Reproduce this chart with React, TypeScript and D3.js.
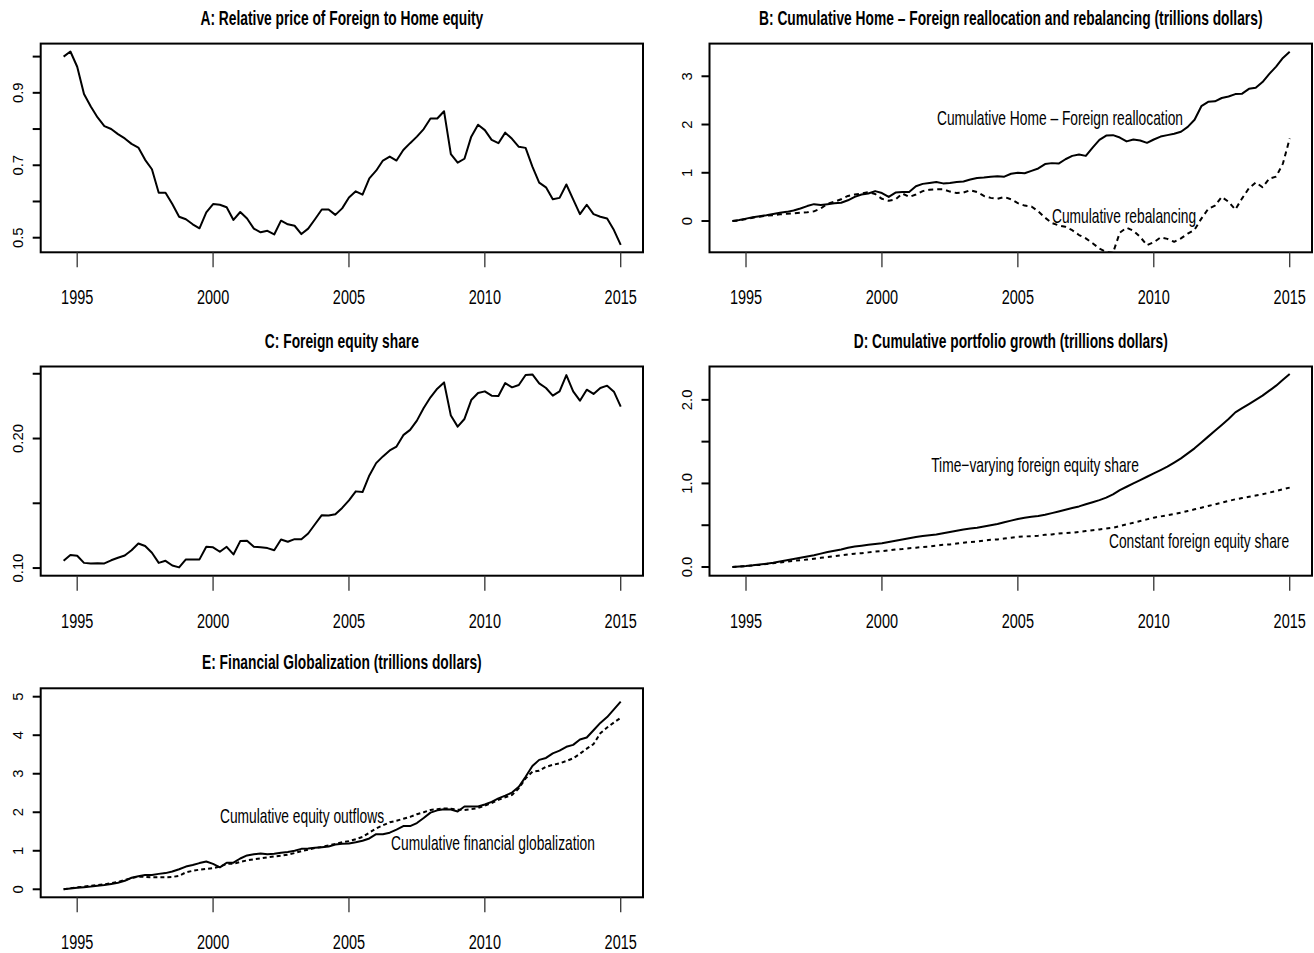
import React from "react";
import * as d3 from "d3";

// quarterly observations, 1994Q3 .. 2015Q1
const START_YEAR = 1994.5;
const STEP = 0.25;

const relPrice = [
  1.0, 1.014, 0.972, 0.897, 0.862, 0.832, 0.808, 0.8, 0.786, 0.774,
  0.759, 0.749, 0.715, 0.689, 0.624, 0.624, 0.593, 0.558, 0.551, 0.537,
  0.526, 0.57, 0.593, 0.591, 0.584, 0.549, 0.571, 0.553, 0.525, 0.515,
  0.519, 0.509, 0.547, 0.537, 0.533, 0.51, 0.525, 0.551, 0.578, 0.578,
  0.563, 0.581, 0.611, 0.628, 0.619, 0.664, 0.685, 0.713, 0.724, 0.713,
  0.742, 0.761, 0.779, 0.8, 0.829, 0.829, 0.849, 0.731, 0.707, 0.718,
  0.779, 0.812, 0.797, 0.77, 0.761, 0.79, 0.773, 0.751, 0.748, 0.696,
  0.652, 0.639, 0.606, 0.61, 0.647, 0.606, 0.565, 0.591, 0.565, 0.558,
  0.553, 0.521, 0.48,
];

const reallocation = [
  0.0, 0.02, 0.05, 0.08, 0.1, 0.12, 0.145, 0.17, 0.19, 0.22,
  0.26, 0.31, 0.35, 0.33, 0.35, 0.37, 0.38, 0.43, 0.5, 0.55,
  0.57, 0.62, 0.58, 0.5, 0.59, 0.6, 0.6, 0.72, 0.77, 0.79,
  0.81, 0.78, 0.79, 0.81, 0.82, 0.86, 0.89, 0.9, 0.92, 0.93,
  0.92, 0.98, 1.0, 0.99, 1.04, 1.09, 1.18, 1.2, 1.19, 1.28,
  1.35, 1.38, 1.35, 1.52, 1.68, 1.77, 1.78, 1.73, 1.65, 1.69,
  1.67, 1.62, 1.69, 1.75, 1.78, 1.81, 1.85, 1.95, 2.1, 2.38,
  2.47, 2.48, 2.55, 2.58, 2.63, 2.64, 2.74, 2.76, 2.88, 3.05,
  3.2, 3.38, 3.51,
];

const rebalancing = [
  0.0, 0.01, 0.04, 0.07, 0.09, 0.11, 0.12, 0.14, 0.15, 0.16,
  0.17, 0.18, 0.2, 0.26, 0.36, 0.4, 0.45, 0.52, 0.55, 0.57,
  0.6, 0.56, 0.46, 0.42, 0.45, 0.57, 0.5, 0.55, 0.62, 0.65,
  0.66, 0.66, 0.61, 0.58, 0.59, 0.64, 0.6, 0.52, 0.48, 0.46,
  0.5, 0.45, 0.37, 0.32, 0.3, 0.2, 0.07, -0.04, -0.09, -0.12,
  -0.19, -0.29, -0.36, -0.46, -0.57, -0.64, -0.66, -0.24, -0.14, -0.2,
  -0.33, -0.5, -0.44, -0.34, -0.37, -0.43, -0.36, -0.26, -0.18, 0.05,
  0.25, 0.32, 0.5, 0.4, 0.24, 0.47, 0.68, 0.8, 0.7, 0.88,
  0.92, 1.19, 1.71,
];

const foreignShare = [
  0.1056, 0.11, 0.1095, 0.104, 0.1036, 0.1038, 0.1036, 0.106, 0.108, 0.1097,
  0.1138, 0.119, 0.117, 0.1118, 0.104, 0.1056, 0.102, 0.1005, 0.1067, 0.1067,
  0.1067, 0.1164, 0.116, 0.1126, 0.1164, 0.1105, 0.1208, 0.121, 0.1164, 0.116,
  0.1154, 0.1138, 0.122, 0.1203, 0.1223, 0.1223, 0.1267, 0.1338, 0.1408, 0.1405,
  0.1415, 0.1464, 0.1523, 0.1592, 0.1587, 0.1715, 0.181, 0.1862, 0.1908, 0.1938,
  0.2026, 0.2067, 0.2138, 0.2236, 0.2318, 0.2385, 0.2433, 0.2177, 0.2092, 0.2151,
  0.2297, 0.2351, 0.2364, 0.2331, 0.2328, 0.2428, 0.2395, 0.2413, 0.249, 0.2495,
  0.2426, 0.239, 0.2331, 0.2364, 0.249, 0.2364, 0.2292, 0.2377, 0.2344, 0.239,
  0.2408, 0.2362, 0.2246,
];

const growthVarying = [
  0.0, 0.006, 0.012, 0.02, 0.03, 0.04, 0.05, 0.065, 0.08, 0.095,
  0.11, 0.125, 0.14, 0.16, 0.18, 0.195, 0.21, 0.23, 0.245, 0.255,
  0.265, 0.275, 0.285, 0.3, 0.315, 0.33, 0.345, 0.36, 0.37, 0.38,
  0.39, 0.405, 0.42, 0.435, 0.45, 0.46, 0.47, 0.485, 0.5, 0.515,
  0.535, 0.555, 0.575, 0.59, 0.6, 0.61, 0.625, 0.645, 0.665, 0.685,
  0.705, 0.725, 0.75, 0.775, 0.8, 0.83, 0.87, 0.92, 0.96, 1.0,
  1.04, 1.08, 1.12, 1.16, 1.2, 1.25, 1.3, 1.36, 1.42, 1.49,
  1.56, 1.63, 1.7, 1.77, 1.85, 1.9, 1.95, 2.0, 2.05, 2.11,
  2.17, 2.24, 2.31,
];

const growthConstant = [
  0.0, 0.005, 0.01, 0.02, 0.025, 0.035, 0.045, 0.055, 0.065, 0.075,
  0.08, 0.09, 0.1, 0.11, 0.12, 0.13, 0.14, 0.15, 0.16, 0.165,
  0.175, 0.185, 0.19, 0.2, 0.21, 0.215, 0.225, 0.23, 0.24, 0.245,
  0.255, 0.265, 0.27, 0.28, 0.29, 0.3, 0.305, 0.315, 0.325, 0.33,
  0.34, 0.35, 0.36, 0.365, 0.37, 0.375, 0.385, 0.39, 0.4, 0.405,
  0.41, 0.42, 0.43, 0.44, 0.45, 0.46, 0.47, 0.49, 0.51, 0.53,
  0.55, 0.57, 0.59, 0.605, 0.62, 0.635, 0.65, 0.67, 0.69, 0.71,
  0.73, 0.75, 0.77, 0.79, 0.81, 0.825, 0.84, 0.855, 0.87, 0.89,
  0.91, 0.93, 0.95,
];

const globalization = [
  0.0, 0.02, 0.04, 0.055, 0.07, 0.09, 0.11, 0.14, 0.17, 0.22,
  0.3, 0.34, 0.37, 0.37, 0.4, 0.42, 0.46, 0.52, 0.59, 0.63,
  0.68, 0.72, 0.66, 0.57, 0.69, 0.69, 0.8, 0.88, 0.91, 0.93,
  0.91, 0.92, 0.95, 0.97, 1.0, 1.05, 1.06, 1.08, 1.09, 1.11,
  1.16, 1.18, 1.19, 1.22, 1.26, 1.32, 1.43, 1.43, 1.47, 1.55,
  1.64, 1.64, 1.72, 1.85, 1.99, 2.05, 2.08, 2.07, 2.02, 2.15,
  2.15, 2.15, 2.2, 2.27, 2.36, 2.43, 2.51, 2.66, 2.92, 3.2,
  3.36, 3.41, 3.53, 3.6, 3.7, 3.75, 3.89, 3.94, 4.13, 4.32,
  4.47, 4.67, 4.87,
];

const equityOutflows = [
  0.0, 0.03, 0.05, 0.07, 0.09, 0.11, 0.13, 0.16, 0.19, 0.24,
  0.29, 0.33, 0.32, 0.31, 0.31, 0.31, 0.32, 0.35, 0.44, 0.48,
  0.51, 0.53, 0.55, 0.59, 0.66, 0.66, 0.71, 0.75, 0.78, 0.8,
  0.83, 0.85, 0.87, 0.9, 0.94, 0.99, 1.03, 1.07, 1.1, 1.14,
  1.18, 1.22, 1.25, 1.3, 1.36, 1.47, 1.58, 1.66, 1.74, 1.78,
  1.83, 1.88, 1.95, 2.0, 2.06, 2.08, 2.1, 2.09, 2.07, 2.06,
  2.08, 2.11, 2.17, 2.24, 2.32, 2.39, 2.45, 2.62, 2.88, 3.05,
  3.08, 3.18, 3.23, 3.27, 3.33, 3.4, 3.52, 3.65, 3.77, 4.05,
  4.2, 4.33, 4.45,
];

const yearTicks = [1995, 2000, 2005, 2010, 2015];

const FONT = "'Liberation Sans', Arial, Helvetica, sans-serif";
const SQUEEZE = 0.69; // the reference text is horizontally condensed

type Series = { values: number[]; dash?: string };
type Note = { text: string; x: number; y: number };
type Panel = {
  id: string;
  title: string;
  box: [number, number, number, number]; // left, top, right, bottom
  yDomain: [number, number];
  yTicks: number[];
  yLabels: string[]; // "" = tick without label
  series: Series[];
  notes: Note[];
};

const LEFT_COL: [number, number] = [40.7, 643];
const RIGHT_COL: [number, number] = [709.5, 1312];
const ROW1: [number, number] = [43.6, 252.3];
const ROW2: [number, number] = [366.5, 575.7];
const ROW3: [number, number] = [688.3, 897.3];

const panels: Panel[] = [
  {
    id: "A",
    title: "A: Relative price of Foreign to Home equity",
    box: [LEFT_COL[0], ROW1[0], LEFT_COL[1], ROW1[1]],
    yDomain: [0.4597, 1.0359],
    yTicks: [0.5, 0.6, 0.7, 0.8, 0.9, 1.0],
    yLabels: ["0.5", "", "0.7", "", "0.9", ""],
    series: [{ values: relPrice }],
    notes: [],
  },
  {
    id: "B",
    title: "B: Cumulative Home \u2013 Foreign reallocation and rebalancing (trillions dollars)",
    box: [RIGHT_COL[0], ROW1[0], RIGHT_COL[1], ROW1[1]],
    yDomain: [-0.648, 3.677],
    yTicks: [0, 1, 2, 3],
    yLabels: ["0", "1", "2", "3"],
    series: [{ values: reallocation }, { values: rebalancing, dash: "5,4" }],
    notes: [
      { text: "Cumulative Home \u2013 Foreign reallocation", x: 1060, y: 118 },
      { text: "Cumulative rebalancing", x: 1124, y: 216 },
    ],
  },
  {
    id: "C",
    title: "C: Foreign equity share",
    box: [LEFT_COL[0], ROW2[0], LEFT_COL[1], ROW2[1]],
    yDomain: [0.0941, 0.2556],
    yTicks: [0.1, 0.15, 0.2, 0.25],
    yLabels: ["0.10", "", "0.20", ""],
    series: [{ values: foreignShare }],
    notes: [],
  },
  {
    id: "D",
    title: "D: Cumulative portfolio growth (trillions dollars)",
    box: [RIGHT_COL[0], ROW2[0], RIGHT_COL[1], ROW2[1]],
    yDomain: [-0.104, 2.399],
    yTicks: [0, 0.5, 1, 1.5, 2],
    yLabels: ["0.0", "", "1.0", "", "2.0"],
    series: [{ values: growthVarying }, { values: growthConstant, dash: "4,4" }],
    notes: [
      { text: "Time\u2212varying foreign equity share", x: 1035, y: 465 },
      { text: "Constant foreign equity share", x: 1199, y: 541 },
    ],
  },
  {
    id: "E",
    title: "E: Financial Globalization (trillions dollars)",
    box: [LEFT_COL[0], ROW3[0], LEFT_COL[1], ROW3[1]],
    yDomain: [-0.208, 5.218],
    yTicks: [0, 1, 2, 3, 4, 5],
    yLabels: ["0", "1", "2", "3", "4", "5"],
    series: [{ values: globalization }, { values: equityOutflows, dash: "4,3" }],
    notes: [
      { text: "Cumulative equity outflows", x: 302, y: 816 },
      { text: "Cumulative financial globalization", x: 493, y: 843 },
    ],
  },
];

const Squeezed = ({ x, y, size, bold, children }: any) => (
  <text
    transform={`translate(${x},${y}) scale(${SQUEEZE},1)`}
    textAnchor="middle"
    fontFamily={FONT}
    fontSize={size}
    fontWeight={bold ? "bold" : "normal"}
    fill="#000"
  >
    {children}
  </text>
);

const PanelPlot = ({ p }: { p: Panel }) => {
  const [l, t, r, b] = p.box;
  const x = d3.scaleLinear().domain([1993.657, 2015.82]).range([l, r]);
  const y = d3.scaleLinear().domain(p.yDomain).range([b, t]);
  const line = d3
    .line<number>()
    .x((_, i) => x(START_YEAR + i * STEP))
    .y((v) => y(v));
  const clipId = `clip-${p.id}`;

  return (
    <g>
      <clipPath id={clipId}>
        <rect x={l} y={t} width={r - l} height={b - t} />
      </clipPath>
      <Squeezed x={(l + r) / 2} y={t - 19} size={20} bold>
        {p.title}
      </Squeezed>
      <g clipPath={`url(#${clipId})`}>
        {p.series.map((s, i) => (
          <path
            key={i}
            d={line(s.values) || ""}
            fill="none"
            stroke="#000"
            strokeWidth={2}
            strokeDasharray={s.dash}
            strokeLinejoin="round"
          />
        ))}
      </g>
      <rect x={l} y={t} width={r - l} height={b - t} fill="none" stroke="#000" strokeWidth={2} />
      {yearTicks.map((yr) => (
        <g key={yr}>
          <line x1={x(yr)} x2={x(yr)} y1={b} y2={b + 15} stroke="#333" strokeWidth={1.3} />
          <Squeezed x={x(yr)} y={b + 52} size={21}>
            {String(yr)}
          </Squeezed>
        </g>
      ))}
      {p.yTicks.map((v, i) => (
        <g key={v}>
          <line x1={l - 8} x2={l} y1={y(v)} y2={y(v)} stroke="#000" strokeWidth={2} />
          {p.yLabels[i] && (
            <text
              transform={`translate(${l - 18},${y(v)}) rotate(-90)`}
              textAnchor="middle"
              fontFamily={FONT}
              fontSize={14.8}
              fill="#000"
            >
              {p.yLabels[i]}
            </text>
          )}
        </g>
      ))}
      {p.notes.map((n) => (
        <g key={n.text}>
          <Squeezed x={n.x} y={n.y + 7} size={20}>
            {n.text}
          </Squeezed>
        </g>
      ))}
    </g>
  );
};

export default function App() {
  return (
    <svg
      width={1314}
      height={953}
      style={{ position: "absolute", left: 0, top: 0, background: "#fff" }}
    >
      <rect width={1314} height={953} fill="#fff" />
      {panels.map((p) => (
        <PanelPlot key={p.id} p={p} />
      ))}
    </svg>
  );
}
